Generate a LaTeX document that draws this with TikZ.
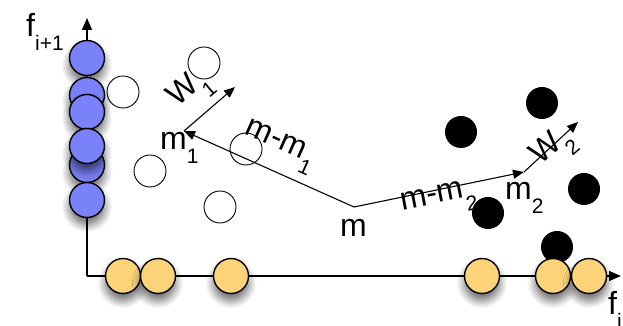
\documentclass[tikz,border=0pt]{standalone}
\usepackage{fontspec}
\setmainfont{Liberation Sans}
\usetikzlibrary{arrows.meta, shadows.blur}

\definecolor{bluept}{RGB}{122,130,250}
\definecolor{orangept}{RGB}{253,211,122}

% lowered small index, as in m1, f_{i+1}
\newcommand{\lowsub}[1]{\raisebox{-0.42em}{\fontsize{21}{21}\selectfont #1}}

\begin{document}
\begin{tikzpicture}
  [
    x=1pt, y=1pt,
    Soft/.style={blur shadow={shadow xshift=0pt, shadow yshift=-7pt, shadow blur radius=8pt, shadow opacity=60, shadow blur steps=8}},
    Blue/.style={circle, draw=black, fill=bluept, line width=1.4pt, minimum size=35pt, inner sep=0pt, Soft},
    Orange/.style={circle, draw=black, fill=orangept, line width=1.4pt, minimum size=35pt, inner sep=0pt, Soft},
    Open/.style={circle, draw=black, line width=0.9pt, minimum size=32pt, inner sep=0pt},
    Dark/.style={circle, fill=black, minimum size=32pt, inner sep=0pt},
    Lbl/.style={font=\fontsize{32}{36}\selectfont, inner sep=0pt},
    Vec/.style={-{Triangle[length=11pt, width=9pt]}, line width=1.1pt},
    Axis/.style={-{Triangle[length=12pt, width=10pt]}, line width=1.3pt}
  ]
  \useasboundingbox (0,0) rectangle (623,326);

  % Axes
  \coordinate (o) at (87, 50);
  \coordinate (ytip) at (87, 308);
  \coordinate (xtip) at (621, 50);
  \draw[Axis] (o) -- (ytip);
  \draw[Axis] (o) -- (xtip);
  \node[Lbl, anchor=base west] (fy) at (26, 289) {f\lowsub{i+1}};
  \node[Lbl, anchor=base west] (fx) at (608, 11) {f\lowsub{i}};

  % Projections on f_{i+1}
  \node[Blue] (b1) at (87, 268) {};
  \node[Blue] (b2) at (87, 231) {};
  \node[Blue] (b3) at (87, 214) {};
  \node[Blue] (b4) at (87, 161) {};
  \node[Blue] (b5) at (87, 180) {};
  \node[Blue] (b6) at (87, 126) {};

  % Class 1
  \node[Open] (p1) at (123, 234) {};
  \node[Open] (p2) at (204, 263) {};
  \node[Open] (p3) at (150, 155) {};
  \node[Open] (p4) at (220, 119) {};
  \node[Open] (p5) at (246, 177) {};

  % Means and directions
  \coordinate (m) at (354, 119);
  \coordinate (m1) at (184, 195);
  \coordinate (m2) at (524, 154);
  \coordinate (w1) at (235, 239);
  \coordinate (w2) at (578, 204);

  \path[Vec, draw] (m) -- (m1);
  \path[Vec, draw] (m1) -- (w1);
  \path[Vec, draw] (m) -- (m2);
  \path[Vec, draw] (m2) -- (w2);

  \node[Lbl, anchor=base west] (lm) at (340, 89) {m};
  \node[Lbl, anchor=base west] (lm1) at (160, 176) {m\lowsub{1}};
  \node[Lbl, anchor=base west] (lm2) at (505, 126) {m\lowsub{2}};
  \node[Lbl, rotate=-24] (lmm1) at (279, 179) {m-m\lowsub{1}};
  \node[Lbl, rotate=11] (lmm2) at (439, 125) {m-m\lowsub{2}};
  \node[Lbl, rotate=40] (lw1) at (191, 235) {W\lowsub{1}};
  \node[Lbl, rotate=40] (lw2) at (554, 177) {W\lowsub{2}};

  % Class 2
  \node[Dark] (q1) at (461, 194) {};
  \node[Dark] (q2) at (542, 223) {};
  \node[Dark] (q3) at (584, 137) {};
  \node[Dark] (q4) at (488, 113) {};
  \node[Dark] (q5) at (557, 79) {};

  % Projections on f_i
  \node[Orange] (r1) at (123, 50) {};
  \node[Orange] (r2) at (158, 50) {};
  \node[Orange] (r3) at (231, 50) {};
  \node[Orange] (r4) at (482, 50) {};
  \node[Orange] (r5) at (553, 50) {};
  \node[Orange] (r6) at (589, 50) {};

\end{tikzpicture}
\end{document}
